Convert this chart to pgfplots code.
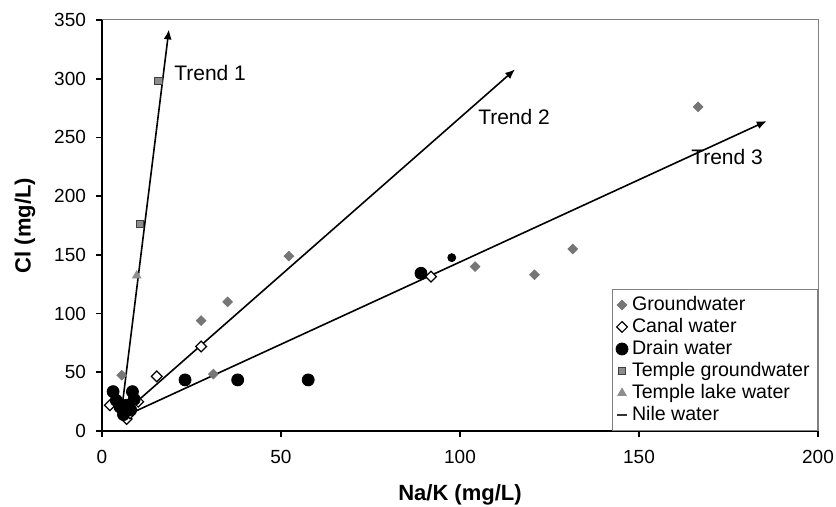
\documentclass[border=0pt]{standalone}
\usepackage{pgfplots}
\pgfplotsset{compat=1.18}
\usepackage{fontspec}
\setmainfont{Liberation Sans}
\usetikzlibrary{arrows.meta}

\definecolor{gw}{HTML}{767676}
\definecolor{tgw}{HTML}{8C8C8C}
\definecolor{tlk}{HTML}{8E8E8E}

\begin{document}
\begin{tikzpicture}
\begin{axis}[
  name=ax,
  scale only axis,
  width=358pt, height=205.5pt,
  xmin=0, xmax=200, ymin=0, ymax=350,
  xtick={0,50,...,200}, ytick={0,50,...,350},
  axis lines*=left,
  axis line style={-, line width=1pt},
  tick align=outside,
  major tick length=3pt,
  tick style={black, line width=0.8pt},
  font=\fontsize{9.5}{11}\selectfont,
  /pgf/number format/assume math mode=true,
  xticklabel style={yshift=-3pt},
  yticklabel style={xshift=-1.5pt},
  every axis y label/.style={at={(axis description cs:-0.1075,0.5)}, rotate=90, anchor=center, font=\fontsize{11}{13}\selectfont\bfseries},
  every axis x label/.style={at={(axis description cs:0.5,-0.1557)}, anchor=center, font=\fontsize{11}{13}\selectfont\bfseries},
  ylabel={Cl (mg/L)},
  xlabel={Na/K (mg/L)},
  legend style={at={(rel axis cs:1,0)}, anchor=south east, draw=gray, line width=0.4pt,
    font=\fontsize{9.8}{10}\selectfont, row sep=-1.6pt, inner xsep=2pt, inner ysep=1.5pt},
  legend cell align=left,
  legend image code/.code={\draw[#1] plot coordinates {(0.2em,0em)};},
  clip=false,
]
\draw[gray, line width=0.5pt] (rel axis cs:0,1) -- (rel axis cs:1,1) -- (rel axis cs:1,0);

% trend lines
\addplot[forget plot, black, line width=0.8pt, -{Latex[length=5pt,width=4pt]}] coordinates {(5.5,18) (18.7,342)};
\addplot[forget plot, black, line width=0.8pt, -{Latex[length=5pt,width=4pt]}] coordinates {(6,15) (115.4,308)};
\addplot[forget plot, black, line width=0.8pt, -{Latex[length=5pt,width=4pt]}] coordinates {(8,15) (185.7,264)};

\addplot[only marks, mark=square*, mark size=1.7pt, gw, mark options={rotate=45, fill=gw, draw=gw}] coordinates {
(5.5,47.5) (27.7,94) (35.1,110) (31.1,48.5) (52.2,149) (104.2,140) (120.8,133) (131.5,155) (166.5,276)};
\addlegendentry{Groundwater}

\addplot[only marks, mark=square*, mark size=1.9pt, black, mark options={rotate=45, fill=white, draw=black, line width=0.6pt}] coordinates {
(2.2,22) (6.9,10.2) (7.8,15) (10.1,25) (15.3,46.5) (27.7,72) (91.9,131.5)};
\addlegendentry{Canal water}

\addplot[only marks, mark=*, mark size=3pt, black] coordinates {
(3.1,33.5) (4,26) (5,20.5) (6,14) (7,22) (8.5,33.5) (9,27) (8,18) (23.2,43.5) (37.9,43.5) (57.6,43.5) (89.1,134.3)};
\addlegendentry{Drain water}
\addplot[forget plot, only marks, mark=*, mark size=2pt, black] coordinates {(97.7,147.6)};

\addplot[only marks, mark=square*, mark size=1.9pt, tgw, mark options={fill=tgw, draw=black!75, line width=0.5pt}] coordinates {
(10.6,176.3) (15.7,298)};
\addlegendentry{Temple groundwater}

\addplot[only marks, mark=triangle*, mark size=2.4pt, tlk, mark options={fill=tlk, draw=tlk}] coordinates {(9.7,132.3)};
\addlegendentry{Temple lake water}

\addlegendimage{only marks, mark=-, mark size=2.5pt, black!80, line width=1pt}
\addlegendentry{Nile water}

\node[font=\fontsize{10.5}{12}\selectfont] at (axis cs:30.2,305) {Trend 1};
\node[font=\fontsize{10.5}{12}\selectfont] at (axis cs:115.1,267.5) {Trend 2};
\node[font=\fontsize{10.5}{12}\selectfont] at (axis cs:174.6,233.4) {Trend 3};
\end{axis}
\pgfresetboundingbox
\path (ax.south west) ++(-51pt,-38pt) coordinate (bl);
\path (ax.north east) ++(9pt,10pt) coordinate (tr);
\useasboundingbox (bl) rectangle (tr);
\end{tikzpicture}
\end{document}
